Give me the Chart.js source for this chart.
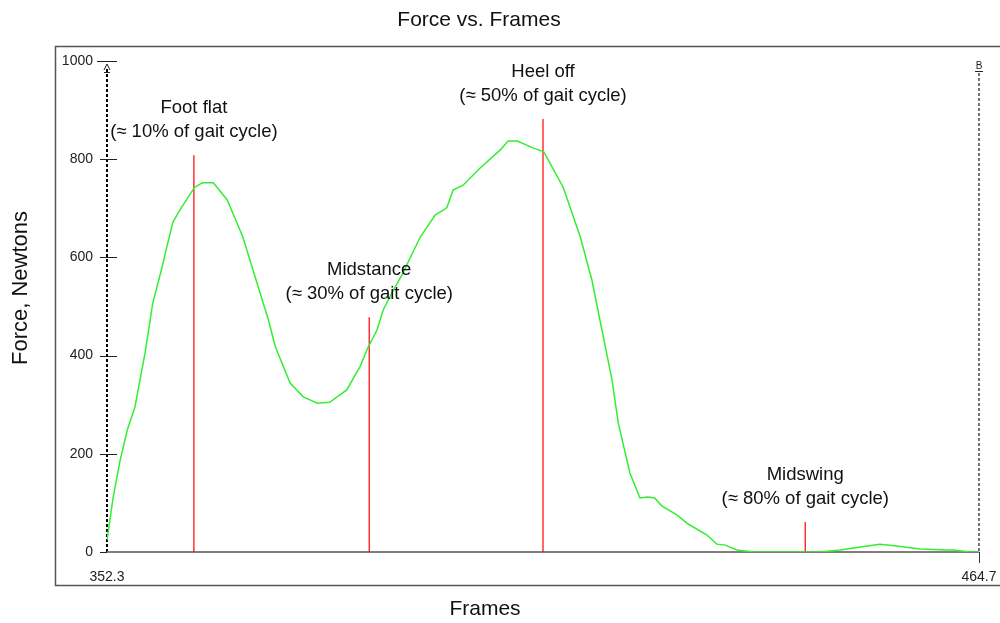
<!DOCTYPE html>
<html>
<head>
<meta charset="utf-8">
<script src="https://cdn.jsdelivr.net/npm/chart.js@4"></script>
<style>
  body { margin: 0; background: #fff; }
  canvas { display: block; }
</style>
</head>
<body>
<canvas id="chart" width="1000" height="623"></canvas>
<script>
// force curve, frames vs newtons
const frames = [
    352.3, 353.1, 354.0, 354.9, 355.9, 357.2, 358.2, 359.4, 360.0, 360.8,
    361.7, 363.6, 364.6, 366.0, 367.8, 369.8, 371.4, 373.1, 374.0, 375.9,
    377.6, 379.4, 381.0, 383.2, 384.9, 385.9, 387.1, 387.9, 389.0, 390.3,
    392.7, 394.6, 396.1, 396.9, 398.2, 400.4, 403.0, 404.0, 405.2, 407.2,
    408.6, 411.1, 413.3, 414.8, 417.4, 418.2, 419.7, 421.0, 422.0, 422.9,
    423.8, 425.8, 427.2, 429.6, 430.9, 432.0, 433.5, 435.6, 444.2, 446.8,
    449.4, 451.9, 454.1, 457.1, 460.6, 461.4, 463.5, 464.7
];
const force = [
    24, 112, 187, 248, 295, 405, 507, 580, 621, 672,
    697, 743, 752, 752, 717, 642, 560, 473, 418, 344,
    316, 303, 305, 330, 377, 415, 452, 493, 527, 564,
    642, 686, 701, 737, 747, 782, 819, 837, 837, 823,
    815, 743, 642, 554, 350, 263, 161, 110, 112, 110,
    94, 75, 57, 35, 16, 14, 4, 0, 0, 4,
    10, 16, 12, 6, 4, 4, 0, 0
];

// gait event markers
const eventNames = ['Foot flat', 'Midstance', 'Heel off', 'Midswing'];
const eventNotes = ['(≈ 10% of gait cycle)', '(≈ 30% of gait cycle)', '(≈ 50% of gait cycle)', '(≈ 80% of gait cycle)'];
const eventFrames = [363.5, 386.1, 408.5, 442.3];
const eventTops = [808, 478, 882, 61];

const xMin = 352.3, xMax = 464.7;
const yMin = 0, yMax = 1000;
const yTicks = [0, 200, 400, 600, 800, 1000];

const FONT = 'Arial, "Liberation Sans", sans-serif';

const datasets = [{
    label: 'Force',
    data: frames.map((f, i) => ({ x: f, y: force[i] })),
    borderColor: '#33ee33',
    borderWidth: 1.5,
    pointRadius: 0,
    tension: 0
}];
eventFrames.forEach((f, i) => {
    datasets.push({
        label: eventNames[i],
        data: [{ x: f, y: 0 }, { x: f, y: eventTops[i] }],
        borderColor: '#ff0000',
        borderWidth: 1.2,
        pointRadius: 0
    });
});

const decorations = {
    id: 'decorations',
    beforeDatasetsDraw(chart) {
        const { ctx, scales: { x, y }, chartArea: a } = chart;
        ctx.save();
        // outer frame
        ctx.strokeStyle = '#555';
        ctx.lineWidth = 1.5;
        ctx.strokeRect(55.5, 46.5, 960, 539);

        // cursor lines A and B
        ctx.strokeStyle = '#000';
        ctx.setLineDash([3, 2]);
        ctx.lineWidth = 2;
        ctx.beginPath();
        ctx.moveTo(a.left, y.getPixelForValue(yMax) + 8);
        ctx.lineTo(a.left, a.bottom);
        ctx.stroke();
        ctx.strokeStyle = '#444';
        ctx.lineWidth = 1.5;
        ctx.beginPath();
        ctx.moveTo(a.right, y.getPixelForValue(yMax) + 12);
        ctx.lineTo(a.right, a.bottom);
        ctx.stroke();
        ctx.setLineDash([]);

        // y tick marks straddling the axis
        ctx.strokeStyle = '#222';
        ctx.lineWidth = 1;
        yTicks.forEach(v => {
            const py = Math.round(y.getPixelForValue(v)) + 0.5;
            ctx.beginPath();
            ctx.moveTo(a.left - (v === yMax ? 10 : 7), py);
            ctx.lineTo(a.left + 10, py);
            ctx.stroke();
        });
        // arrow marker A
        const ty = y.getPixelForValue(yMax);
        ctx.beginPath();
        ctx.moveTo(a.left - 3, ty + 9);
        ctx.lineTo(a.left, ty + 3);
        ctx.lineTo(a.left + 3, ty + 9);
        ctx.moveTo(a.left - 3, ty + 11.5);
        ctx.lineTo(a.left + 3, ty + 11.5);
        ctx.stroke();
        // marker B
        ctx.fillStyle = '#222';
        ctx.font = '10px ' + FONT;
        ctx.textAlign = 'center';
        ctx.textBaseline = 'alphabetic';
        ctx.fillText('B', a.right, ty + 8);
        ctx.beginPath();
        ctx.moveTo(a.right - 4, ty + 10.5);
        ctx.lineTo(a.right + 4, ty + 10.5);
        ctx.stroke();

        // baseline
        ctx.strokeStyle = '#808080';
        ctx.lineWidth = 2;
        ctx.beginPath();
        ctx.moveTo(a.left, a.bottom);
        ctx.lineTo(a.right, a.bottom);
        ctx.stroke();
        ctx.strokeStyle = '#333';
        ctx.lineWidth = 1;
        ctx.beginPath();
        ctx.moveTo(Math.round(a.right) + 0.5, a.bottom);
        ctx.lineTo(Math.round(a.right) + 0.5, a.bottom + 11);
        ctx.stroke();
        ctx.restore();
    },
    afterDraw(chart) {
        const { ctx, scales: { x, y } } = chart;
        ctx.save();
        ctx.fillStyle = '#111';
        ctx.textAlign = 'center';
        ctx.textBaseline = 'middle';

        ctx.font = '21px ' + FONT;
        ctx.fillText('Force vs. Frames', 479, 20);
        ctx.font = '21px ' + FONT;
        ctx.fillText('Frames', 485, 609);
        ctx.save();
        ctx.translate(21, 288);
        ctx.rotate(-Math.PI / 2);
        ctx.font = '22px ' + FONT;
        ctx.fillText('Force, Newtons', 0, 0);
        ctx.restore();

        ctx.font = '18.5px ' + FONT;
        eventFrames.forEach((f, i) => {
            const px = x.getPixelForValue(f);
            const top = y.getPixelForValue(eventTops[i]);
            ctx.fillText(eventNames[i], px, top - 47);
            ctx.fillText(eventNotes[i], px, top - 23);
        });
        ctx.restore();
    }
};

new Chart(document.getElementById('chart'), {
    type: 'line',
    data: { datasets },
    options: {
        responsive: false,
        animation: false,
        layout: { autoPadding: false, padding: { left: 0, top: 61, right: 21, bottom: 0 } },
        plugins: { legend: { display: false }, title: { display: false }, tooltip: { enabled: false } },
        scales: {
            x: {
                type: 'linear',
                min: xMin,
                max: xMax,
                afterBuildTicks: s => { s.ticks = [{ value: xMin }, { value: xMax }]; },
                afterFit: s => { s.height = 71; s.paddingLeft = 0; s.paddingRight = 0; },
                grid: { display: false, drawTicks: false },
                border: { display: false },
                ticks: {
                    padding: 17,
                    maxRotation: 0,
                    autoSkip: false,
                    color: '#222',
                    font: { family: FONT, size: 14 },
                    callback: v => v.toFixed(1)
                }
            },
            y: {
                min: yMin,
                max: yMax,
                afterBuildTicks: s => { s.ticks = yTicks.map(v => ({ value: v })); },
                afterFit: s => { s.width = 107; s.paddingTop = 0; s.paddingBottom = 0; },
                grid: { display: false, drawTicks: false },
                border: { display: false },
                ticks: {
                    padding: 14,
                    color: '#222',
                    font: { family: FONT, size: 14 },
                    callback: v => String(v)
                }
            }
        }
    },
    plugins: [decorations]
});
</script>
</body>
</html>
